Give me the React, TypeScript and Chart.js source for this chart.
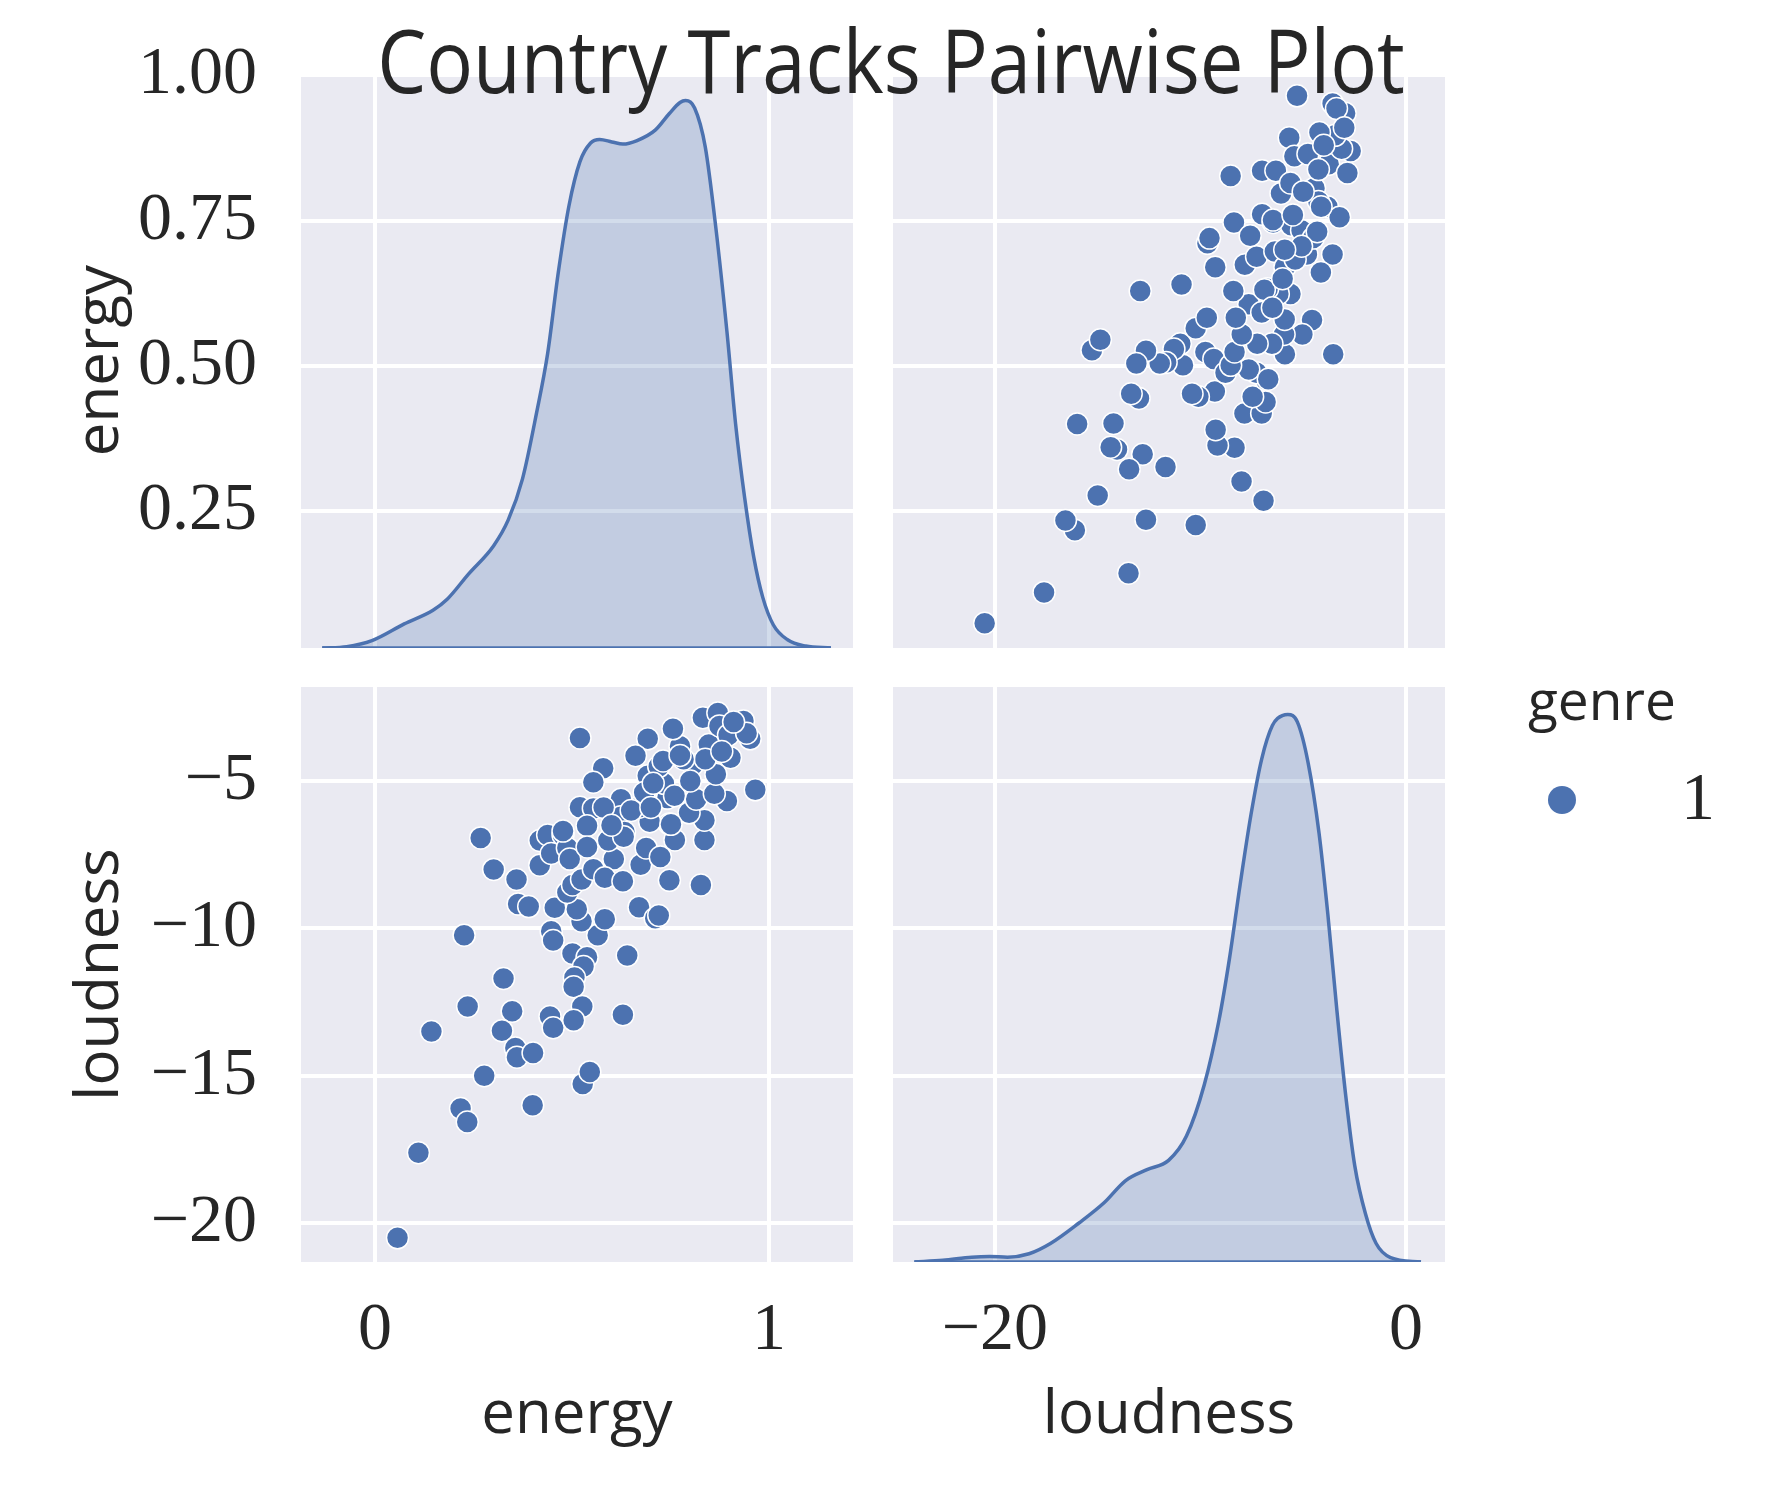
import { useEffect, useRef } from "react";
import { Chart, registerables } from "chart.js";
Chart.register(...registerables);

const BLUE = "#4C72B0";
const FILL = "rgba(76, 114, 176, 0.25)";
const PANEL_BG = "#EAEAF2";
const TEXT = "#262626";
const SANS = "'Open Sans', sans-serif";
const SERIF = "'Liberation Serif', serif";

// one entry per track (energy, loudness pairs)
const energy = [
  0.057, 0.11, 0.217, 0.234, 0.143, 0.235, 0.226, 0.277, 0.326, 0.348,
  0.322, 0.356, 0.36, 0.401, 0.4, 0.268, 0.301, 0.359, 0.363, 0.39,
  0.418, 0.418, 0.438, 0.447, 0.477, 0.488, 0.494, 0.456, 0.447, 0.452,
  0.501, 0.538, 0.529, 0.506, 0.504, 0.526, 0.444, 0.452, 0.504, 0.629,
  0.527, 0.545, 0.64, 0.565, 0.583, 0.524, 0.512, 0.488, 0.501, 0.524,
  0.67, 0.711, 0.72, 0.747, 0.827, 0.965, 0.893, 0.836, 0.761, 0.836,
  0.797, 0.747, 0.815, 0.861, 0.742, 0.733, 0.692, 0.72, 0.806, 0.847,
  0.774, 0.756, 0.692, 0.661, 0.832, 0.87, 0.874, 0.897, 0.935, 0.952,
  0.943, 0.902, 0.865, 0.838, 0.783, 0.52, 0.579, 0.554, 0.52, 0.554,
  0.538, 0.538, 0.624, 0.624, 0.633, 0.606, 0.592, 0.554, 0.583, 0.629,
  0.674, 0.688, 0.697, 0.724, 0.751, 0.67, 0.683, 0.731, 0.774, 0.706,
  0.58, 0.631, 0.477, 0.65, 0.76, 0.8, 0.88, 0.91, 0.6, 0.7,
];
const loudness = [
  -20.5, -17.61, -16.11, -16.57, -13.5, -12.65, -10.23, -15.0, -11.7, -12.81,
  -13.47, -14.06, -14.37, -14.23, -16.0, -6.93, -8.0, -8.34, -9.17, -9.26,
  -7.86, -7.02, -6.83, -7.46, -6.83, -7.27, -7.65, -9.3, -10.1, -10.41,
  -10.85, -10.98, -11.29, -11.67, -11.98, -12.65, -12.99, -13.37, -13.12, -12.93,
  -15.28, -14.87, -10.92, -10.23, -9.69, -9.76, -9.35, -8.78, -8.53, -8.34,
  -9.28, -9.66, -9.56, -8.37, -8.53, -5.3, -5.68, -7.0, -7.0, -6.33,
  -6.08, -6.46, -5.62, -5.43, -5.58, -5.08, -4.82, -4.51, -4.45, -3.76,
  -3.82, -3.23, -3.57, -4.14, -2.85, -2.69, -3.13, -3.44, -2.96, -3.57,
  -3.38, -4.21, -4.77, -4.26, -4.26, -3.54, -4.57, -5.04, -5.89, -5.93,
  -6.52, -7.24, -5.62, -6.21, -6.73, -7.65, -7.02, -7.99, -8.28, -8.4,
  -7.84, -7.27, -6.38, -7.58, -6.47, -5.89, -5.39, -4.32, -4.13, -5.08,
  -5.9, -6.89, -6.7, -6.0, -5.5, -5.0, -4.0, -3.0, -6.5, -5.9,
];

// density curves
const energyKdeX = [
  -0.134, -0.072, -0.008, 0.074, 0.147, 0.183, 0.237, 0.301, 0.338, 0.374,
  0.41, 0.438, 0.465, 0.492, 0.52, 0.547, 0.57, 0.601, 0.629, 0.665,
  0.711, 0.747, 0.774, 0.788, 0.811, 0.838, 0.865, 0.893, 0.915, 0.938,
  0.961, 0.984, 1.011, 1.047, 1.093, 1.157,
];
const energyKdeY = [
  0, 0.005, 0.027, 0.088, 0.138, 0.178, 0.27, 0.374, 0.468, 0.617,
  0.86, 1.076, 1.372, 1.615, 1.777, 1.845, 1.858, 1.849, 1.841, 1.854,
  1.892, 1.953, 1.993, 2.0, 1.973, 1.831, 1.534, 1.157, 0.819, 0.549,
  0.333, 0.185, 0.084, 0.03, 0.007, 0,
];
const loudnessKdeX = [
  -23.92, -22.53, -21.13, -20.26, -19.39, -18.34, -17.3, -15.91, -14.69, -13.64,
  -12.6, -11.55, -10.68, -9.81, -9.11, -8.59, -8.07, -7.54, -7.02, -6.5,
  -5.98, -5.75, -5.28, -4.76, -4.23, -3.8, -3.36, -2.93, -2.49, -1.97,
  -1.45, -0.75, 0.73,
];
const loudnessKdeY = [
  0, 0.0005, 0.0014, 0.0016, 0.0014, 0.0024, 0.0054, 0.0114, 0.0173, 0.0238,
  0.027, 0.0297, 0.0368, 0.0519, 0.0703, 0.0886, 0.1103, 0.1308, 0.147, 0.1568,
  0.1598, 0.16, 0.1578, 0.1459, 0.1254, 0.1016, 0.0735, 0.0486, 0.0281, 0.0141,
  0.0054, 0.0013, 0,
];

const energyTicks = [0.25, 0.5, 0.75, 1.0];
const energyTickLabels = ["0.25", "0.50", "0.75", "1.00"];
const energyXTicks = [0, 1];
const energyXTickLabels = ["0", "1"];
const loudnessTicks = [-20, -15, -10, -5];
const loudnessTickLabels = ["\u221220", "\u221215", "\u221210", "\u22125"];
const loudnessXTicks = [-20, 0];
const loudnessXTickLabels = ["\u221220", "0"];

const panelBackground = {
  id: "panelBackground",
  beforeDraw(chart: any) {
    const { ctx, chartArea: a } = chart;
    ctx.save();
    ctx.fillStyle = PANEL_BG;
    ctx.fillRect(a.left, a.top, a.right - a.left, a.bottom - a.top);
    ctx.restore();
  },
};

interface AxisSpec {
  horizontal: boolean;
  min: number;
  max: number;
  values: number[];
  labels: string[];
  show: boolean;
  size: number;
  title?: string;
}

function axis(spec: AxisSpec) {
  return {
    type: "linear",
    position: spec.horizontal ? "bottom" : "left",
    min: spec.min,
    max: spec.max,
    afterBuildTicks: (s: any) => {
      s.ticks = spec.values.map((v) => ({ value: v }));
    },
    afterFit: (s: any) => {
      if (spec.horizontal) s.height = spec.size;
      else s.width = spec.size;
      s.paddingTop = 0;
      s.paddingBottom = 0;
      s.paddingLeft = 0;
      s.paddingRight = 0;
    },
    grid: { color: "#ffffff", lineWidth: 4, drawTicks: false },
    border: { display: false },
    ticks: {
      display: spec.show,
      autoSkip: false,
      maxRotation: 0,
      padding: spec.horizontal ? 28 : 44,
      color: TEXT,
      font: { family: SERIF, size: 68 },
      callback: (v: number) => {
        const i = spec.values.indexOf(v);
        return i >= 0 ? spec.labels[i] : "";
      },
    },
    title: spec.title
      ? {
          display: true,
          text: spec.title,
          color: TEXT,
          font: { family: SANS, size: 60 },
          padding: spec.horizontal ? { top: 0, bottom: 40 } : { top: 57, bottom: 0 },
        }
      : { display: false },
  };
}

const energyX = (show: boolean, size: number, title?: string) =>
  axis({ horizontal: true, min: -0.188, max: 1.213, values: energyXTicks, labels: energyXTickLabels, show, size, title });
const loudnessX = (show: boolean, size: number, title?: string) =>
  axis({ horizontal: true, min: -24.96, max: 1.9, values: loudnessXTicks, labels: loudnessXTickLabels, show, size, title });
const energyY = (show: boolean, size: number, title?: string) =>
  axis({ horizontal: false, min: 0.0143, max: 1.0043, values: energyTicks, labels: energyTickLabels, show, size, title });
const loudnessY = (show: boolean, size: number, title?: string) =>
  axis({ horizontal: false, min: -21.32, max: -1.81, values: loudnessTicks, labels: loudnessTickLabels, show, size, title });

const baseOptions = (padTop: number) => ({
  responsive: false,
  animation: false,
  devicePixelRatio: 1,
  events: [],
  layout: { autoPadding: false, padding: { top: padTop, left: 0, right: 0, bottom: 0 } },
  plugins: { legend: { display: false }, tooltip: { enabled: false } },
});

const points = (xs: number[], ys: number[]) => ({
  type: "scatter",
  data: xs.map((x, i) => ({ x, y: ys[i] })),
  pointRadius: 11,
  pointBackgroundColor: BLUE,
  pointBorderColor: "#ffffff",
  pointBorderWidth: 1.5,
  showLine: false,
});

const kde = (xs: number[], ys: number[]) => [
  {
    type: "line",
    data: xs.map((x, i) => ({ x, y: ys[i] })),
    yAxisID: "yd",
    borderColor: BLUE,
    borderWidth: 3.5,
    backgroundColor: FILL,
    fill: "origin",
    pointRadius: 0,
    cubicInterpolationMode: "monotone",
  },
  {
    type: "line",
    data: [
      { x: xs[0], y: 0 },
      { x: xs[xs.length - 1], y: 0 },
    ],
    yAxisID: "yd",
    borderColor: BLUE,
    borderWidth: 3.5,
    fill: false,
    pointRadius: 0,
  },
];

const densityAxis = (peak: number) => ({ type: "linear", display: false, min: 0, max: peak / 0.952 });

function topLeft(): any {
  return {
    type: "line",
    data: { datasets: kde(energyKdeX, energyKdeY) },
    options: {
      ...baseOptions(40),
      scales: { x: energyX(false, 0), y: energyY(true, 293, "energy"), yd: densityAxis(2.0) },
    },
    plugins: [panelBackground],
  };
}

function topRight(): any {
  return {
    type: "scatter",
    data: { datasets: [points(loudness, energy)] },
    options: {
      ...baseOptions(40),
      scales: { x: loudnessX(false, 0), y: energyY(false, 0) },
    },
    plugins: [panelBackground],
  };
}

function bottomLeft(): any {
  return {
    type: "scatter",
    data: { datasets: [points(energy, loudness)] },
    options: {
      ...baseOptions(0),
      scales: { x: energyX(true, 230, "energy"), y: loudnessY(true, 293, "loudness") },
    },
    plugins: [panelBackground],
  };
}

function bottomRight(): any {
  return {
    type: "line",
    data: { datasets: kde(loudnessKdeX, loudnessKdeY) },
    options: {
      ...baseOptions(0),
      scales: { x: loudnessX(true, 230, "loudness"), y: loudnessY(false, 0), yd: densityAxis(0.16) },
    },
    plugins: [panelBackground],
  };
}

interface PanelProps {
  left: number;
  top: number;
  width: number;
  height: number;
  build: () => any;
}

const Panel = ({ left, top, width, height, build }: PanelProps) => {
  const canvasRef = useRef<HTMLCanvasElement>(null);

  useEffect(() => {
    if (!canvasRef.current) return;
    const chart = new Chart(canvasRef.current, build());
    return () => chart.destroy();
  }, [build]);

  return (
    <canvas
      ref={canvasRef}
      width={width}
      height={height}
      style={{ position: "absolute", left, top, width, height }}
    />
  );
};

const App = () => {
  return (
    <div style={{ position: "relative", width: 1765, height: 1484, background: "#ffffff" }}>
      <Panel left={0} top={25} width={845} height={615} build={topLeft} />
      <Panel left={885} top={25} width={552} height={615} build={topRight} />
      <Panel left={0} top={679} width={845} height={805} build={bottomLeft} />
      <Panel left={885} top={679} width={552} height={805} build={bottomRight} />

      <div
        style={{
          position: "absolute",
          left: 883,
          top: 7,
          fontFamily: SANS,
          fontSize: 88,
          lineHeight: 1,
          color: TEXT,
          whiteSpace: "nowrap",
          transform: "translateX(-50%) scaleX(0.885)",
        }}
      >
        Country Tracks Pairwise Plot
      </div>

      <div
        style={{
          position: "absolute",
          left: 1520,
          top: 663,
          fontFamily: SANS,
          fontSize: 55,
          lineHeight: 1,
          color: TEXT,
        }}
      >
        genre
      </div>
      <div
        style={{
          position: "absolute",
          left: 1540,
          top: 778,
          width: 28,
          height: 28,
          borderRadius: "50%",
          background: BLUE,
        }}
      />
      <div
        style={{
          position: "absolute",
          left: 1690,
          top: 754,
          fontFamily: SERIF,
          fontSize: 68,
          lineHeight: 1,
          color: TEXT,
          transform: "translateX(-50%)",
        }}
      >
        1
      </div>
    </div>
  );
};

export default App;
